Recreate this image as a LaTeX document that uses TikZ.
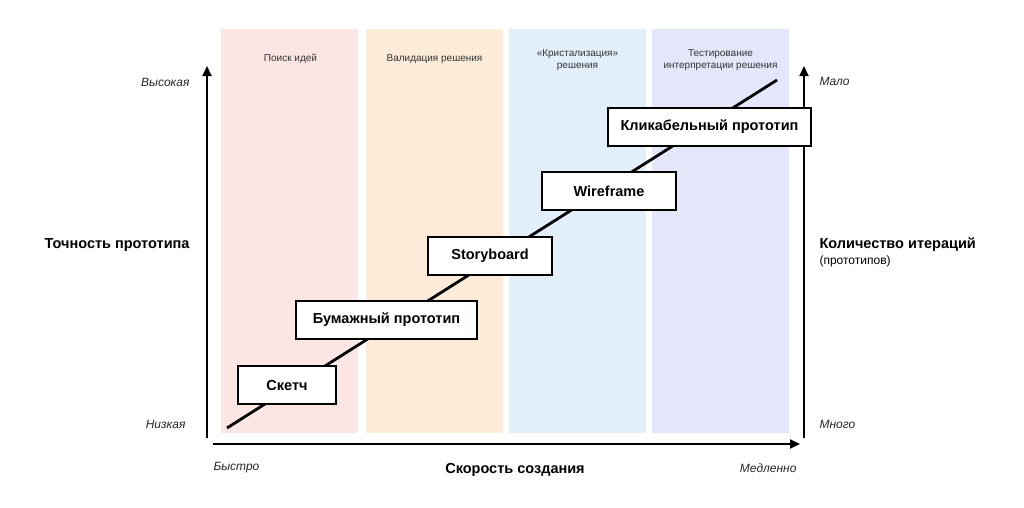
\documentclass[tikz,border=0pt]{standalone}
\usepackage{fontspec}
\setmainfont{Liberation Sans}
\usetikzlibrary{arrows.meta}
\definecolor{cA}{HTML}{FBE6E3}
\definecolor{cB}{HTML}{FCEBD9}
\definecolor{cC}{HTML}{E3EEFB}
\definecolor{cD}{HTML}{E4E6FA}
\tikzset{
  colbox/.style={inner sep=0pt, minimum width=137pt, minimum height=404pt, anchor=north west},
  phase/.style={font=\fontsize{10}{12}\selectfont, align=center, text=black!80},
  proto/.style={draw=black, line width=2.6pt, fill=white, minimum height=38pt, inner sep=0pt,
    font=\fontsize{14.5}{17}\selectfont\bfseries},
  axis/.style={line width=1.8pt, -{Triangle[width=9pt,length=10pt]}},
  axlab/.style={font=\fontsize{14.5}{17}\selectfont\bfseries},
  endlab/.style={font=\fontsize{12}{14}\selectfont\itshape, text=black!85},
}
\begin{document}
\begin{tikzpicture}[x=1pt,y=-1pt]
\useasboundingbox (0,0) rectangle (1024,507);
% columns
\node[colbox, fill=cA] (c1) at (221,29) {};
\node[colbox, fill=cB] (c2) at (366,29) {};
\node[colbox, fill=cC] (c3) at (509,29) {};
\node[colbox, fill=cD] (c4) at (652,29) {};
\node[phase] (h1) at (290.5,59) {Поиск идей};
\node[phase] (h2) at (434.5,59) {Валидация решения};
\node[phase] (h3) at (577.5,60) {«Кристализация»\\решения};
\node[phase] (h4) at (720.5,60) {Тестирование\\интерпретации решения};
% axes
\coordinate (o) at (207,438);
\coordinate (ytop) at (207,66);
\coordinate (xs) at (213,444);
\coordinate (xe) at (800,444);
\coordinate (rb) at (804,438);
\coordinate (rt) at (804,66);
\draw[axis] (o) -- (ytop);
\draw[axis] (xs) -- (xe);
\draw[axis] (rb) -- (rt);
% diagonal
\coordinate (ds) at (227,428);
\coordinate (de) at (777,80);
\draw[line width=2.8pt] (ds) -- (de);
% prototypes
\node[proto, minimum width=98pt] (p1) at (287,385) {Скетч};
\node[proto, minimum width=181pt] (p2) at (386.5,320) {Бумажный прототип};
\node[proto, minimum width=124pt] (p3) at (490,256) {Storyboard};
\node[proto, minimum width=134pt] (p4) at (609,191) {Wireframe};
\node[proto, minimum width=203pt] (p5) at (709.5,127) {Кликабельный прототип};
% labels
\node[endlab, anchor=east] (hi) at (193,82) {Высокая};
\node[endlab, anchor=east] (lo) at (189,424) {Низкая};
\node[axlab, anchor=east] (yl) at (193,245) {Точность прототипа};
\node[endlab, anchor=west] (few) at (816,81) {Мало};
\node[endlab, anchor=west] (many) at (816,424) {Много};
\node[axlab, anchor=west] (rl) at (816,245) {Количество итераций};
\node[anchor=west, font=\fontsize{12}{14}\selectfont] (rl2) at (816,261) {(прототипов)};
\node[endlab, anchor=west] (fast) at (210,468) {Быстро};
\node[axlab] (xl) at (515,470) {Скорость создания};
\node[endlab, anchor=east] (slow) at (800,468) {Медленно};
\end{tikzpicture}
\end{document}
